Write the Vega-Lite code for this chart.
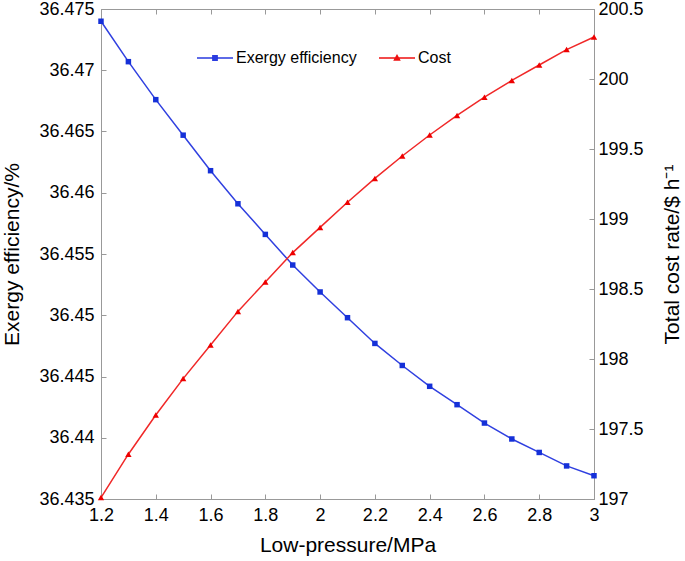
{
  "$schema": "https://vega.github.io/schema/vega-lite/v6.json",
  "width": 493,
  "height": 490,
  "autosize": {"type": "none"},
  "padding": {"left": 101, "top": 9, "right": 91, "bottom": 62},
  "background": "white",
  "config": {
    "view": {"stroke": "#999999", "strokeWidth": 1},
    "font": "Liberation Sans",
    "axis": {
      "grid": false,
      "labelFont": "Liberation Sans",
      "labelFontSize": 18,
      "labelColor": "#000000",
      "titleFont": "Liberation Sans",
      "titleFontSize": 21,
      "titleFontWeight": "normal",
      "titleColor": "#000000",
      "domainColor": "#999999",
      "tickColor": "#999999",
      "tickSize": -5,
      "labelPadding": 12
    },
    "legend": {
      "labelFont": "Liberation Sans",
      "labelFontSize": 16,
      "labelColor": "#000000",
      "padding": 0
    }
  },
  "datasets": {
    "main": [
      {"p": 1.2, "eff": 36.4740, "cost": 197.01},
      {"p": 1.3, "eff": 36.4707, "cost": 197.32},
      {"p": 1.4, "eff": 36.4676, "cost": 197.60},
      {"p": 1.5, "eff": 36.4647, "cost": 197.86},
      {"p": 1.6, "eff": 36.4618, "cost": 198.10},
      {"p": 1.7, "eff": 36.4591, "cost": 198.34},
      {"p": 1.8, "eff": 36.4566, "cost": 198.55},
      {"p": 1.9, "eff": 36.4541, "cost": 198.76},
      {"p": 2.0, "eff": 36.4519, "cost": 198.94},
      {"p": 2.1, "eff": 36.4498, "cost": 199.12},
      {"p": 2.2, "eff": 36.4477, "cost": 199.29},
      {"p": 2.3, "eff": 36.4459, "cost": 199.45},
      {"p": 2.4, "eff": 36.4442, "cost": 199.60},
      {"p": 2.5, "eff": 36.4427, "cost": 199.74},
      {"p": 2.6, "eff": 36.4412, "cost": 199.87},
      {"p": 2.7, "eff": 36.4399, "cost": 199.99},
      {"p": 2.8, "eff": 36.4388, "cost": 200.10},
      {"p": 2.9, "eff": 36.4377, "cost": 200.21},
      {"p": 3.0, "eff": 36.4369, "cost": 200.30}
    ],
    "legend": [
      {"series": "Exergy efficiency", "p": 1.2, "v": -10},
      {"series": "Cost", "p": 3.0, "v": -10}
    ]
  },
  "layer": [
    {
      "data": {"name": "main"},
      "encoding": {
        "x": {
          "field": "p", "type": "quantitative",
          "scale": {"domain": [1.2, 3], "nice": false, "zero": false},
          "axis": {"title": "Low-pressure/MPa", "values": [1.2, 1.4, 1.6, 1.8, 2, 2.2, 2.4, 2.6, 2.8, 3], "format": ".1~f", "labelFlush": false, "titlePadding": 10}
        },
        "y": {
          "field": "eff", "type": "quantitative",
          "scale": {"domain": [36.435, 36.475], "nice": false, "zero": false},
          "axis": {"title": "Exergy efficiency/%", "orient": "left", "values": [36.435, 36.44, 36.445, 36.45, 36.455, 36.46, 36.465, 36.47, 36.475], "format": ".3~f", "labelFlush": false, "titlePadding": 16}
        }
      },
      "layer": [
        {"mark": {"type": "line", "color": "#3040e0", "strokeWidth": 1.5}},
        {"mark": {"type": "point", "shape": "square", "filled": true, "color": "#1530d8", "size": 30, "opacity": 1}}
      ]
    },
    {
      "data": {"name": "main"},
      "encoding": {
        "x": {"field": "p", "type": "quantitative", "scale": {"domain": [1.2, 3], "nice": false, "zero": false}, "axis": null},
        "y": {
          "field": "cost", "type": "quantitative",
          "scale": {"domain": [197, 200.5], "nice": false, "zero": false},
          "axis": {"title": "Total cost rate/$ h⁻¹", "orient": "right", "titleAngle": 270, "titleBaseline": "bottom", "values": [197, 197.5, 198, 198.5, 199, 199.5, 200, 200.5], "format": ".1~f", "labelFlush": false, "labelPadding": 9, "titlePadding": 39}
        }
      },
      "layer": [
        {"mark": {"type": "line", "color": "#f02828", "strokeWidth": 1.5}},
        {"mark": {"type": "point", "shape": "triangle-up", "filled": true, "color": "#ee0000", "size": 40, "opacity": 1}}
      ]
    },
    {
      "data": {"name": "legend"},
      "mark": {"type": "point", "filled": true, "clip": true, "opacity": 1},
      "encoding": {
        "x": {"field": "p", "type": "quantitative", "scale": {"domain": [1.2, 3], "nice": false, "zero": false},
          "axis": {"orient": "top", "labels": false, "title": null, "domain": false, "values": [1.2, 1.4, 1.6, 1.8, 2, 2.2, 2.4, 2.6, 2.8, 3]}},
        "y": {"field": "v", "type": "quantitative", "scale": {"domain": [0, 1]}, "axis": null},
        "fill": {
          "field": "series", "type": "nominal",
          "scale": {"domain": ["Exergy efficiency", "Cost"], "range": ["#2a3be0", "#ee1111"]},
          "legend": {"title": null, "orient": "none", "direction": "horizontal", "legendX": 96, "legendY": 31, "symbolSize": 1296, "symbolStrokeWidth": 0, "symbolOpacity": 1, "labelOffset": 3, "columnPadding": 22}
        },
        "shape": {
          "field": "series", "type": "nominal",
          "scale": {"domain": ["Exergy efficiency", "Cost"], "range": ["M-1,-0.04H1V0.04H-1ZM-0.16,-0.16H0.16V0.16H-0.16Z", "M-1,-0.04H1V0.04H-1ZM0,-0.22L0.21,0.15H-0.21Z"]},
          "legend": {"title": null, "orient": "none", "direction": "horizontal", "legendX": 96, "legendY": 31, "symbolSize": 1296, "symbolStrokeWidth": 0, "symbolOpacity": 1, "labelOffset": 3, "columnPadding": 22}
        }
      }
    }
  ],
  "resolve": {"scale": {"y": "independent"}, "axis": {"x": "independent"}}
}
